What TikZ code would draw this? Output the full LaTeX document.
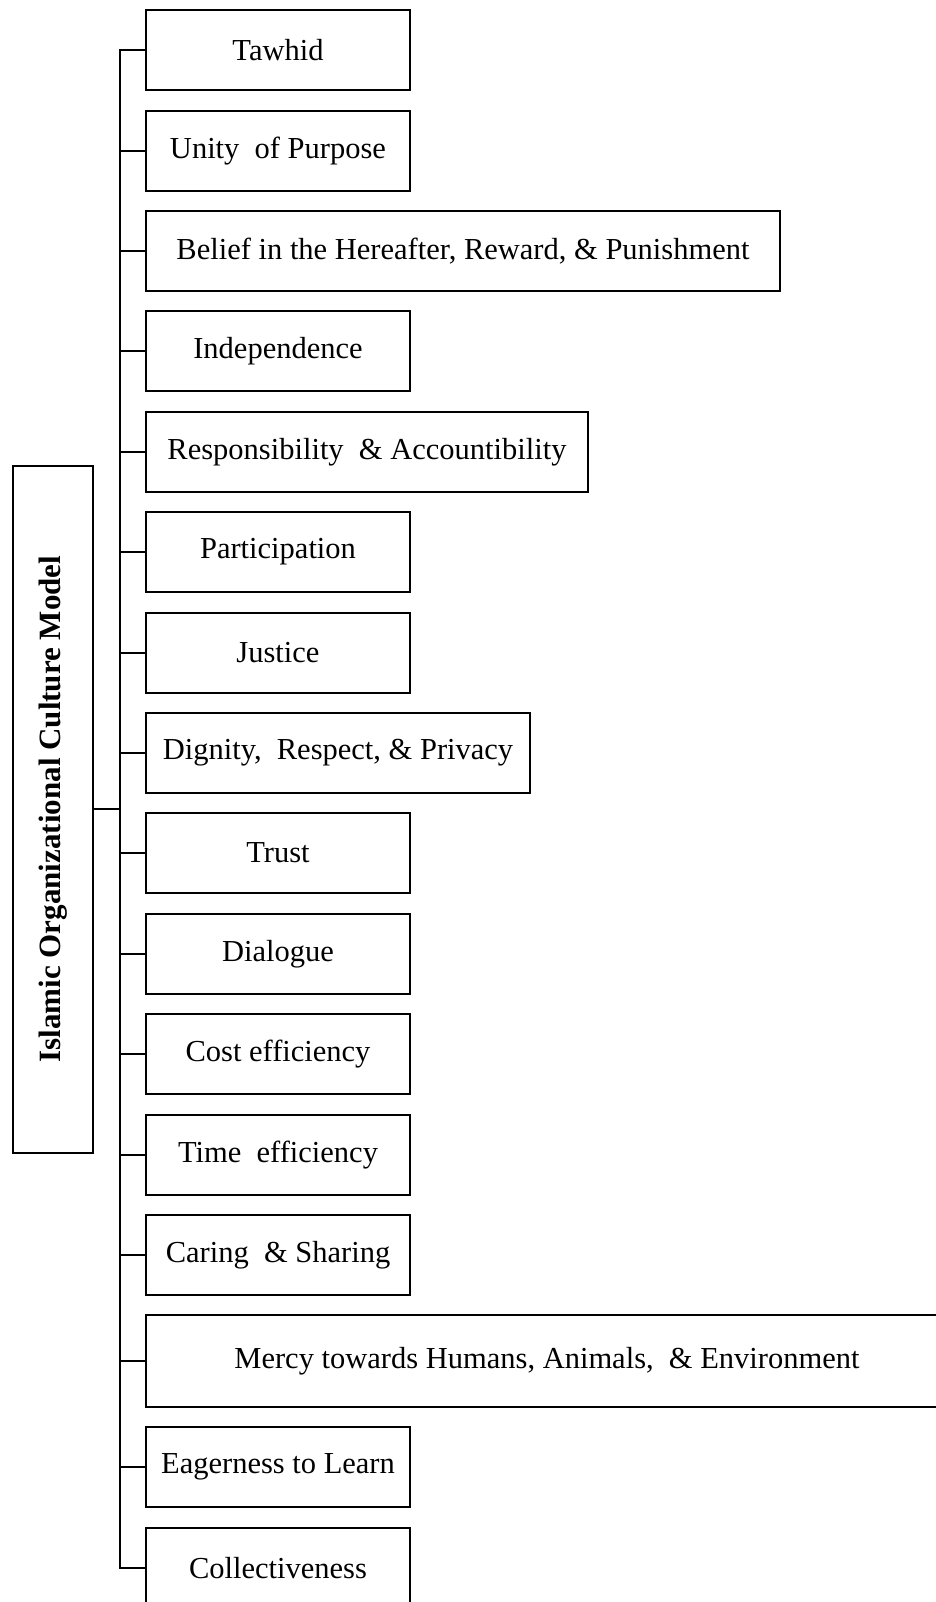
\documentclass[tikz,border=0pt]{standalone}
\usepackage{fontspec}
\setmainfont{Liberation Serif}
\begin{document}
\begin{tikzpicture}[x=1pt,y=-1pt,
  box/.style={draw=black,line width=2pt,rectangle,inner sep=0pt,font=\fontsize{30.5}{34}\selectfont,minimum height=80pt},
  link/.style={draw=black,line width=2pt}]
\useasboundingbox (0,0) rectangle (936,1602);
\clip (0,0) rectangle (936,1602);
\fill[white] (0,0) rectangle (936,1602);
\node[box,minimum width=80pt,minimum height=687pt] (main) at (53,809) {};
\node[rotate=90,font=\fontsize{31}{34}\selectfont\bfseries] (mainlabel) at (main.center) {Islamic Organizational Culture Model};
\node[box,minimum width=264pt] (b1) at (278,50) {Tawhid};
\node[box,minimum width=264pt] (b2) at (278,151) {Unity\ \ of Purpose};
\node[box,minimum width=634pt] (b3) at (463,251) {Belief in the Hereafter, Reward, \& Punishment};
\node[box,minimum width=264pt] (b4) at (278,351) {Independence};
\node[box,minimum width=442pt] (b5) at (367,452) {Responsibility \ \& Accountibility};
\node[box,minimum width=264pt] (b6) at (278,552) {Participation};
\node[box,minimum width=264pt] (b7) at (278,653) {Justice};
\node[box,minimum width=384pt] (b8) at (338,753) {Dignity,\ \ Respect, \& Privacy};
\node[box,minimum width=264pt] (b9) at (278,853) {Trust};
\node[box,minimum width=264pt] (b10) at (278,954) {Dialogue};
\node[box,minimum width=264pt] (b11) at (278,1054) {Cost efficiency};
\node[box,minimum width=264pt] (b12) at (278,1155) {Time\ \ efficiency};
\node[box,minimum width=264pt] (b13) at (278,1255) {Caring \ \& Sharing};
\node[box,minimum width=802pt,minimum height=92pt] (b14) at (547,1361) {Mercy towards Humans, Animals,\ \ \& Environment};
\node[box,minimum width=264pt] (b15) at (278,1467) {Eagerness to Learn};
\node[box,minimum width=264pt] (b16) at (278,1568) {Collectiveness};
\coordinate (ttop) at (120,50);
\coordinate (tbot) at (120,1568);
\draw[link] (b1.west) -- (ttop) -- (tbot) -- (b16.west);
\foreach \i in {2,...,15} {\draw[link] (b\i.west) -- (120,0 |- b\i.west);}
\draw[link] (main.east) -- (120,0 |- main.east);
\end{tikzpicture}
\end{document}
